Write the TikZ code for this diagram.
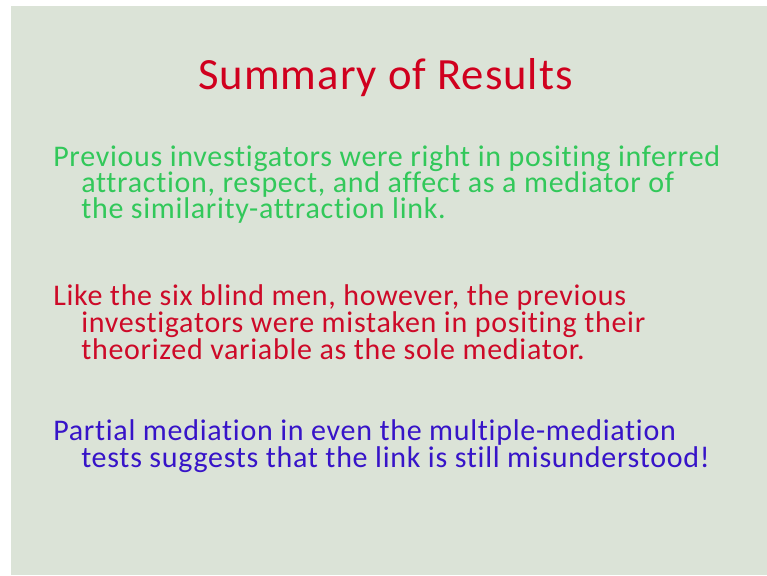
\documentclass[tikz,border=0pt]{standalone}
\usepackage{fontspec}
\setmainfont[Ligatures={NoCommon,NoContextual},LetterSpace=2.4]{Carlito}
\newfontfamily\titlefont[Ligatures={NoCommon,NoContextual},LetterSpace=2.2]{Carlito}
\definecolor{slidebg}{RGB}{219,227,215}
\definecolor{titlered}{RGB}{208,0,30}
\definecolor{textgreen}{RGB}{50,200,90}
\definecolor{textred}{RGB}{205,10,40}
\definecolor{textblue}{RGB}{55,20,200}
\tikzset{
  titletext/.style={anchor=base, inner sep=0pt, font=\titlefont\fontsize{33.5pt}{36pt}\selectfont, text=titlered},
  % body lines sit 26px apart, so their boxes are trimmed to one line pitch
  bodyline/.style={anchor=base west, inner sep=0pt, text height=14.5pt, text depth=4.5pt,
    font=\fontsize{22.5pt}{26pt}\selectfont},
  greenline/.style={bodyline, text=textgreen},
  redline/.style={bodyline, text=textred},
  blueline/.style={bodyline, text=textblue}
}
\begin{document}
\begin{tikzpicture}[x=0.75pt, y=-0.75pt]
  \useasboundingbox (0,0) rectangle (767,575);
  \fill[white] (0,0) rectangle (767,575);
  \fill[slidebg] (11,6) rectangle (767,575);

  \node[titletext] (title) at (385.5,89) {Summary of Results};

  \node[greenline] (g1) at (53,166.5) {Previous investigators were right in positing inferred};
  \node[greenline] (g2) at (81,192.5) {attraction, respect, and affect as a mediator of};
  \node[greenline] (g3) at (81,218.5) {the similarity-attraction link.};

  \node[redline] (r1) at (53,305) {Like the six blind men, however, the previous};
  \node[redline] (r2) at (81,332) {investigators were mistaken in positing their};
  \node[redline] (r3) at (81,359) {theorized variable as the sole mediator.};

  \node[blueline] (b1) at (53,440) {Partial mediation in even the multiple-mediation};
  \node[blueline] (b2) at (81,467) {tests suggests that the link is still misunderstood!};
\end{tikzpicture}
\end{document}
